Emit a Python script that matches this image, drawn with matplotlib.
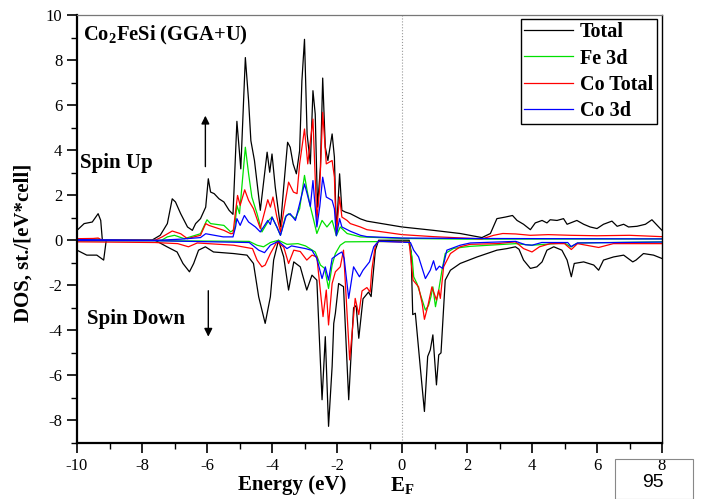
import matplotlib
matplotlib.use("Agg")
import matplotlib.pyplot as plt
from matplotlib.patches import Rectangle
from matplotlib.ticker import MultipleLocator

# ---- data ------------------------------------------------------------------
# spin up
e_tot_up = [-10, -9.78, -9.53, -9.35, -9.27, -9.22, -7.7, -7.44, -7.22, -7.07, -6.97,
            -6.81, -6.6, -6.45, -6.35, -6.2, -6.04, -5.96, -5.89, -5.78, -5.63, -5.48,
            -5.32, -5.2, -5.08, -4.96, -4.82, -4.72, -4.65, -4.54, -4.36, -4.15, -4.07,
            -4.0, -3.9, -3.74, -3.64, -3.52, -3.44, -3.35, -3.25, -3.15, -3.08, -3.0,
            -2.92, -2.82, -2.74, -2.67, -2.6, -2.51, -2.44, -2.36, -2.28, -2.15, -2.08,
            -2.02, -1.92, -1.85, -1.74, -1.59, -1.28, -1.08, 0, 0.97, 1.79, 2.46, 2.72,
            2.92, 3.18, 3.4, 3.54, 3.74, 3.95, 4.1, 4.31, 4.46, 4.56, 4.77, 4.97, 5.08,
            5.38, 5.59, 5.79, 6.0, 6.2, 6.46, 6.62, 6.82, 6.97, 7.23, 7.49, 7.69, 7.9, 8]
dos_tot_up = [0.44, 0.74, 0.81, 1.18, 0.88, 0.0, 0.0, 0.22, 0.74, 1.84, 1.7,
              1.18, 0.59, 0.44, 0.74, 0.96, 1.47, 2.73, 2.14, 2.07, 1.84, 1.7,
              1.33, 1.15, 5.28, 3.17, 8.11, 6.19, 4.42, 3.54, 1.33, 3.91, 3.02,
              3.83, 2.36, 0.59, 2.36, 4.35, 4.13, 3.39, 2.95, 3.98, 7.08, 8.92,
              4.72, 3.39, 6.64, 5.6, 1.47, 3.24, 7.2, 4.13, 3.54, 4.72, 3.69,
              0.3, 2.95, 1.33, 1.25, 1.18, 0.95, 0.85, 0.59, 0.44, 0.3, 0.12, 0.3,
              0.96, 1.03, 1.1, 0.88, 0.71, 0.47, 0.77, 0.88, 0.77, 0.91, 0.88, 0.96, 0.71,
              0.88, 0.71, 0.59, 0.52, 0.71, 0.85, 0.62, 0.71, 0.59, 0.62, 0.71, 0.91, 0.59, 0.44]

e_fe_up = [-10, -9.35, -9.22, -7.4, -7.22, -7.0, -6.7, -6.2, -6.0, -5.89, -5.48, -5.27,
           -5.15, -5.08, -5.0, -4.82, -4.72, -4.62, -4.46, -4.31, -4.1, -4.0, -3.85,
           -3.74, -3.59, -3.49, -3.28, -3.15, -3.0, -2.92, -2.82, -2.74, -2.62, -2.46,
           -2.31, -2.15, -2.02, -1.9, -1.69, -1.28, 0, 2, 8]
dos_fe_up = [0.04, 0.06, 0.0, 0.0, 0.15, 0.22, 0.07, 0.29, 0.91, 0.74, 0.66, 0.37,
             0.5, 1.55, 1.18, 4.13, 2.95, 1.92, 1.18, 0.37, 0.88, 1.03, 0.59,
             0.22, 1.03, 1.18, 0.96, 1.4, 2.88, 2.21, 1.5, 1.03, 0.3, 0.88,
             0.59, 0.88, 0.2, 0.59, 0.3, 0.15, 0.08, 0.05, 0.06]

e_co_up = [-10, -9.5, -9.35, -9.22, -7.6, -7.38, -7.07, -6.81, -6.6, -6.4, -6.2, -6.04,
           -5.94, -5.48, -5.27, -5.2, -5.13, -5.06, -4.98, -4.84, -4.72, -4.57, -4.36,
           -4.13, -4.05, -3.97, -3.85, -3.74, -3.62, -3.49, -3.34, -3.23, -3.15, -3.0,
           -2.9, -2.74, -2.62, -2.53, -2.44, -2.33, -2.15, -2.08, -2.02, -1.92, -1.85,
           -1.69, -1.59, -1.28, -1.08, 0, 0.97, 2.46, 2.82, 3.1, 3.5, 3.95, 4.5, 5.2,
           6.0, 7.0, 8]
dos_co_up = [0.07, 0.08, 0.1, 0.0, 0.0, 0.15, 0.41, 0.29, 0.07, 0.15, 0.22, 0.74,
             0.66, 0.44, 0.29, 0.3, 1.18, 1.99, 1.55, 2.24, 1.77, 1.4, 0.52,
             1.8, 1.47, 1.92, 1.03, 0.37, 1.47, 2.58, 2.14, 2.07, 3.39, 4.94,
             3.39, 5.38, 0.88, 2.36, 5.68, 3.39, 3.54, 2.8, 0.3, 1.92, 1.03,
             0.88, 0.74, 0.59, 0.47, 0.25, 0.16, 0.06, 0.22, 0.3, 0.28, 0.22, 0.25, 0.22,
             0.2, 0.22, 0.16]

e_co3d_up = [-10, -9.22, -7.5, -6.8, -6.2, -6.04, -5.5, -5.2, -5.12, -5.08, -4.98, -4.85,
             -4.72, -4.51, -4.36, -4.13, -4.05, -4.0, -3.85, -3.74, -3.56, -3.44, -3.28,
             -3.15, -3.0, -2.92, -2.82, -2.74, -2.62, -2.53, -2.44, -2.33, -2.15, -2.08,
             -2.02, -1.92, -1.85, -1.59, -1.28, -1.08, 0, 2, 8]
dos_co3d_up = [0.03, 0.02, 0.0, 0.05, 0.12, 0.29, 0.15, 0.15, 0.6, 0.96, 0.66, 1.1,
               0.81, 0.59, 0.37, 0.88, 0.7, 1.03, 0.59, 0.22, 1.1, 1.18, 0.88,
               1.62, 2.5, 2.07, 1.5, 2.65, 0.59, 1.5, 2.8, 1.92, 1.77, 1.4,
               0.2, 0.96, 0.59, 0.4, 0.22, 0.16, 0.1, 0.08, 0.06]

# spin down
e_tot_dn = [-10, -9.7, -9.39, -9.18, -9.1, -7.6, -7.23, -6.92, -6.74, -6.54, -6.41, -6.26,
            -6.05, -5.8, -5.18, -4.77, -4.57, -4.41, -4.21, -4.05, -3.95, -3.8, -3.64,
            -3.49, -3.33, -3.13, -2.93, -2.77, -2.62, -2.46, -2.36, -2.26, -2.15, -2.1,
            -2.05, -1.95, -1.8, -1.64, -1.49, -1.41, -1.33, -1.2, -1.03, -0.95, -0.82,
            -0.72, 0.22, 0.28, 0.33, 0.41, 0.56, 0.69, 0.79, 0.87, 0.95, 1.06, 1.13, 1.2,
            1.33, 1.49, 1.79, 2.31, 2.92, 3.23, 3.49, 3.6, 3.74, 3.95, 4.15, 4.31, 4.46,
            4.67, 4.92, 5.08, 5.21, 5.3, 5.59, 5.9, 6.05, 6.2, 6.51, 6.82, 7.1, 7.2, 7.43,
            7.74, 8]
dos_tot_dn = [-0.44, -0.66, -0.66, -0.88, 0.0, 0.0, -0.29, -0.52, -1.03, -1.4, -1.03, -0.44,
              -0.29, -0.52, -0.59, -0.66, -1.03, -2.51, -3.69, -2.51, -0.88, 0.0, -0.74,
              -2.21, -0.96, -1.18, -2.21, -1.55, -1.77, -7.08, -4.28, -8.26, -5.6, -3.69,
              -3.24, -1.92, -2.06, -7.08, -3.0, -2.9, -4.35, -2.6, -2.3, -2.5, -0.44,
              0.0, 0.0, -0.5, -3.3, -3.24, -5.6, -7.6, -5.16, -4.87, -4.2, -6.42, -5.09, -5.0,
              -1.77, -1.33, -1.03, -0.74, -0.44, -0.37, -0.29, -0.4, -0.88, -1.25, -1.18, -0.96, -0.44,
              -0.29, -0.44, -0.88, -1.62, -1.03, -0.96, -1.1, -1.33, -0.88, -0.74, -0.66, -0.96, -0.88, -0.59,
              -0.66, -0.81]

e_fe_dn = [-10, -7.6, -4.7, -4.46, -4.26, -4.05, -3.8, -3.54, -3.2, -2.97, -2.67, -2.51,
           -2.38, -2.26, -2.15, -2.05, -1.9, -1.75, 0.2, 0.31, 0.36, 0.46, 0.62, 0.72,
           0.82, 0.89, 0.95, 1.03, 1.13, 1.23, 1.33, 1.59, 2.1, 3.5, 4.0, 5.0, 5.2, 5.4, 8]
dos_fe_dn = [-0.03, -0.02, -0.05, -0.22, -0.29, -0.1, 0.0, -0.18, -0.15, -0.25, -0.52, -1.1,
             -1.25, -2.14, -1.1, -0.59, -0.22, -0.07, -0.05, -0.74, -1.62, -1.92, -2.65, -3.1,
             -2.88, -2.51, -2.07, -2.95, -2.21, -1.33, -0.59, -0.36, -0.27, -0.15, -0.22, -0.12, -0.3, -0.12, -0.07]

e_co_dn = [-10, -9.1, -7.6, -6.9, -6.57, -6.3, -5.18, -4.6, -4.46, -4.31, -4.21, -4.05,
           -3.85, -3.64, -3.49, -3.33, -3.13, -2.93, -2.77, -2.62, -2.43, -2.33, -2.26,
           -2.15, -2.05, -1.9, -1.8, -1.61, -1.44, -1.33, -1.23, -1.08, -0.98, -0.93,
           -0.82, -0.72, 0.22, 0.34, 0.51, 0.62, 0.69, 0.79, 0.92, 1.06, 1.13, 1.18,
           1.28, 1.49, 1.79, 2.1, 2.92, 3.49, 3.74, 4.0, 4.23, 4.56, 5.0, 5.21, 5.4,
           6.05, 6.5, 8]
dos_co_dn = [-0.07, -0.08, -0.1, -0.15, -0.29, -0.12, -0.22, -0.37, -0.88, -1.18, -1.1, -0.59,
             -0.07, -0.3, -1.03, -0.44, -0.5, -0.88, -0.66, -0.74, -3.39, -2.21, -3.76,
             -1.92, -1.4, -1.18, -0.44, -5.31, -2.58, -3.3, -2.25, -2.1, -2.3, -1.33,
             -0.22, -0.05, -0.08, -1.77, -2.07, -2.8, -3.51, -2.95, -2.07, -2.65, -2.21, -2.58,
             -1.18, -0.59, -0.29, -0.18, -0.15, -0.07, -0.37, -0.52, -0.29, -0.15, -0.15, -0.41, -0.15,
             -0.32, -0.15, -0.15]

e_co3d_dn = [-10, -7.6, -4.7, -4.41, -4.23, -4.05, -3.8, -3.54, -3.4, -2.97, -2.77, -2.62,
             -2.46, -2.36, -2.26, -2.15, -1.95, -1.85, -1.78, -1.64, -1.49, -1.31, -1.2,
             -1.0, -0.87, -0.72, 0.26, 0.36, 0.51, 0.72, 0.87, 0.97, 1.05, 1.15, 1.25,
             1.38, 1.79, 2.1, 3.5, 3.8, 4.0, 4.3, 5.1, 5.2, 5.4, 8]
dos_co3d_dn = [-0.01, -0.02, -0.1, -0.44, -0.55, -0.22, -0.04, -0.37, -0.25, -0.37, -0.45, -0.81,
               -1.7, -1.18, -1.77, -0.81, -0.6, -0.52, -0.8, -2.58, -1.18, -1.62, -1.33,
               -0.96, -0.29, -0.04, -0.1, -0.44, -0.74, -1.7, -1.33, -0.91, -1.33, -1.15, -1.25,
               -0.44, -0.22, -0.12, -0.05, -0.2, -0.22, -0.1, -0.1, -0.28, -0.12, -0.08]

labels = ["Total", "Fe 3d", "Co Total", "Co 3d"]
colors = ["black", "#00e000", "red", "blue"]

# ---- figure -----------------------------------------------------------------
plt.rcParams["font.family"] = ["Liberation Serif", "DejaVu Serif"]
plt.rcParams["axes.unicode_minus"] = False
plt.rcParams["mathtext.fontset"] = "custom"
plt.rcParams["mathtext.rm"] = "Liberation Serif:bold"
plt.rcParams["mathtext.bf"] = "Liberation Serif:bold"

fig = plt.figure(figsize=(7.02, 4.99), dpi=100)
ax = fig.add_axes([77 / 702, 1 - 443 / 499, 585 / 702, 428 / 499])

ups = [(e_tot_up, dos_tot_up), (e_fe_up, dos_fe_up), (e_co_up, dos_co_up), (e_co3d_up, dos_co3d_up)]
dns = [(e_tot_dn, dos_tot_dn), (e_fe_dn, dos_fe_dn), (e_co_dn, dos_co_dn), (e_co3d_dn, dos_co3d_dn)]
for (eu, du), (ed, dd), lab, col in zip(ups, dns, labels, colors):
    ax.plot(eu, du, color=col, lw=0.9, label=lab)
    ax.plot(ed, dd, color=col, lw=0.9)

ax.axvline(0, color="#999999", lw=0.8, ls=":")

ax.set_xlim(-10, 8)
ax.set_ylim(-9, 10)
ax.xaxis.set_major_locator(MultipleLocator(2))
ax.xaxis.set_minor_locator(MultipleLocator(1))
ax.yaxis.set_major_locator(MultipleLocator(2))
ax.yaxis.set_minor_locator(MultipleLocator(1))
ax.tick_params(which="both", direction="out", top=False, right=False, labelsize=12)
ax.tick_params(which="major", length=7, width=1.2)
ax.tick_params(which="minor", length=4, width=1.0)

for side in ["left", "bottom"]:
    ax.spines[side].set_linewidth(1.6)
ax.spines["right"].set_linewidth(1.0)
ax.spines["top"].set_linewidth(0.9)
ax.spines["top"].set_color("#777777")

ax.set_ylabel("DOS, st./[eV*cell]", fontsize=15, fontweight="bold")
ax.yaxis.set_label_coords(-0.0735, 0.467)

ax.text(0.3675, -0.11, "Energy (eV)", transform=ax.transAxes, fontsize=15,
        fontweight="bold", ha="center", va="baseline")
ax.text(0, -0.113, r"E$_\mathrm{F}$", transform=ax.get_xaxis_transform(), fontsize=15,
        fontweight="bold", ha="center", va="baseline")

ax.text(-9.83, 8.85, r"Co$_\mathrm{2}$FeSi (GGA+U)", fontsize=14.8, fontweight="bold",
        va="baseline")
ax.text(-9.9, 3.19, "Spin Up", fontsize=15, fontweight="bold", va="baseline")
ax.text(-9.69, -3.73, "Spin Down", fontsize=15, fontweight="bold", va="baseline")

arrow = dict(arrowstyle="-|>", color="black", lw=1.0, mutation_scale=12, shrinkA=0, shrinkB=0)
ax.annotate("", xy=(-6.05, 5.53), xytext=(-6.05, 3.27), arrowprops=arrow)
ax.annotate("", xy=(-5.96, -4.28), xytext=(-5.96, -2.24), arrowprops=arrow)

leg = ax.legend(loc="upper right", bbox_to_anchor=(0.991, 0.991), borderaxespad=0,
                prop={"weight": "bold", "size": 14.5}, handlelength=2.4, handletextpad=0.35,
                borderpad=0.18, labelspacing=0.3, fancybox=False, framealpha=1,
                edgecolor="black")
leg.get_frame().set_linewidth(1.0)

# page number box cut off at the bottom right
fig.add_artist(Rectangle((615 / 702, 0.0), 78 / 702, 40 / 499, transform=fig.transFigure,
                         fill=False, edgecolor="#888888", lw=0.8))
fig.text(642 / 702, 1 - 474 / 499, "95", fontsize=14, family="Liberation Sans",
         va="top", ha="left")

fig.savefig("out.png", dpi=100)
